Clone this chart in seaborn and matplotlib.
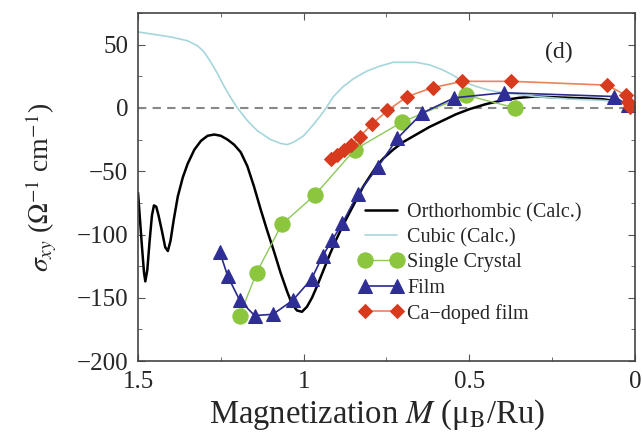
import matplotlib
matplotlib.use("Agg")
import matplotlib.pyplot as plt
import seaborn as sns
from matplotlib.ticker import MultipleLocator

# --- data ---
ortho_m = [1.5, 1.495, 1.488, 1.482, 1.478, 1.472, 1.465, 1.458, 1.452, 1.445,
           1.438, 1.428, 1.418, 1.410, 1.402, 1.392, 1.38, 1.365, 1.35, 1.33,
           1.31, 1.29, 1.27, 1.25, 1.23, 1.21, 1.19, 1.17, 1.15, 1.13,
           1.11, 1.09, 1.07, 1.05, 1.035, 1.02, 1.005, 0.99, 0.975, 0.96,
           0.94, 0.92, 0.90, 0.88, 0.86, 0.84, 0.82, 0.80, 0.78, 0.76,
           0.73, 0.70, 0.66, 0.62, 0.58, 0.54, 0.50, 0.45, 0.40, 0.35,
           0.30, 0.20, 0.10, 0.05, 0.0]
ortho_s = [-67, -85, -110, -130, -137, -128, -105, -85, -77, -78,
           -85, -97, -110, -113, -105, -88, -70, -55, -44, -33,
           -26, -22, -21, -22, -25, -29, -35, -46, -62, -80,
           -97, -113, -130, -145, -155, -160, -161, -157, -150, -141,
           -128, -115, -103, -92, -82, -72, -62, -54, -46, -40,
           -33, -27, -21, -15, -10, -5, -1, 3, 6, 8,
           9, 8, 7, 5, 2]

cubic_m = [1.5, 1.45, 1.40, 1.35, 1.32, 1.30, 1.28, 1.26, 1.24, 1.22,
           1.20, 1.17, 1.14, 1.10, 1.07, 1.05, 1.03, 1.00, 0.97, 0.94,
           0.91, 0.88, 0.85, 0.81, 0.77, 0.73, 0.70, 0.66, 0.62, 0.58,
           0.55, 0.52, 0.48, 0.44, 0.40, 0.30, 0.20, 0.10, 0.05, 0.0]
cubic_s = [60, 58, 56, 53, 49, 44, 36, 27, 17, 8,
           0, -10, -18, -25, -28, -29, -27, -22, -13, -3,
           9, 17, 23, 29, 33, 36, 36, 36, 34, 30,
           26, 21, 17, 14, 12, 9, 7, 6, 5, 3]

crystal_m = [1.193, 1.142, 1.066, 0.967, 0.846, 0.702, 0.509, 0.361]
crystal_s = [-164, -130, -92, -69, -33, -11, 10, 0]

film_m = [1.253, 1.229, 1.193, 1.148, 1.093, 1.033, 0.976, 0.943, 0.913,
          0.883, 0.837, 0.777, 0.717, 0.642, 0.545, 0.395, 0.063, 0.02]
film_s = [-114, -133, -152, -164, -163, -152, -135, -117, -104,
          -91, -68, -47, -24, -4, 8, 12, 9, 2]

cadoped_m = [0.916, 0.898, 0.877, 0.856, 0.831, 0.795, 0.747, 0.687, 0.611,
             0.521, 0.373, 0.084, 0.027, 0.02, 0.015]
cadoped_s = [-40, -37, -33, -29, -23, -13, -2, 9, 16,
             21, 21, 18, 10, 5, 1]

sns.set_style("ticks")
plt.rcParams["font.family"] = ["Liberation Serif", "DejaVu Serif"]
plt.rcParams["mathtext.fontset"] = "stix"

fig = plt.figure(figsize=(6.42, 4.32), dpi=100)
ax = fig.add_axes([0.215, 0.164, 0.774, 0.806])

ax.axhline(0, color="#888888", ls=(0, (4, 3)), lw=1.5, zorder=1)

sns.lineplot(x=ortho_m, y=ortho_s, sort=False, estimator=None, ax=ax,
             color="black", lw=1.8, label="Orthorhombic (Calc.)")
sns.lineplot(x=cubic_m, y=cubic_s, sort=False, estimator=None, ax=ax,
             color="#a6d6dc", lw=1.2, label="Cubic (Calc.)")
sns.lineplot(x=crystal_m, y=crystal_s, sort=False, estimator=None, ax=ax,
             color="#8cc85a", lw=1.0, marker="o", ms=11,
             markerfacecolor="#8cc63f", markeredgecolor="#8cc63f",
             label="Single Crystal")
sns.lineplot(x=film_m, y=film_s, sort=False, estimator=None, ax=ax,
             color="#2a2a8c", lw=1.2, marker="^", ms=10,
             markerfacecolor="#2e2e96", markeredgecolor="#2e2e96",
             label="Film")
sns.lineplot(x=cadoped_m, y=cadoped_s, sort=False, estimator=None, ax=ax,
             color="#e8845a", lw=1.2, marker="D", ms=7,
             markerfacecolor="#d83a1e", markeredgecolor="#d83a1e",
             label="Ca\u2212doped film")

ax.set_xlim(1.5, 0)
ax.set_ylim(-200, 75)
ax.xaxis.set_major_locator(MultipleLocator(0.5))
ax.xaxis.set_minor_locator(MultipleLocator(0.25))
ax.yaxis.set_major_locator(MultipleLocator(50))
ax.yaxis.set_minor_locator(MultipleLocator(25))
ax.set_xticks([1.5, 1.0, 0.5, 0.0])
ax.set_xticklabels(["1.5", "1", "0.5", "0"])
ax.tick_params(which="both", direction="in", top=True, right=True,
               color="#555555", labelsize=18, pad=7)
ax.tick_params(which="major", length=5)
ax.tick_params(which="minor", length=3)
for sp in ax.spines.values():
    sp.set_color("#444444")
    sp.set_linewidth(1.2)

ax.set_xlabel("Magnetization $M$ (\u03bc$_{\\rm B}$/Ru)", fontsize=23.5)
ax.xaxis.set_label_coords(0.482, -0.105)
ax.set_ylabel("$\\sigma_{xy}$ ($\\Omega^{-1}$ cm$^{-1}$)", fontsize=20, labelpad=13)

ax.text(0.229, 44, "(d)", fontsize=17, ha="center", va="center")

ax.legend(loc="upper left", bbox_to_anchor=(0.428, 0.478), frameon=False,
          numpoints=2, fontsize=14.5, handlelength=2.2, handletextpad=0.2,
          labelspacing=0.3, borderaxespad=0)

fig.savefig("out.png", dpi=100)
